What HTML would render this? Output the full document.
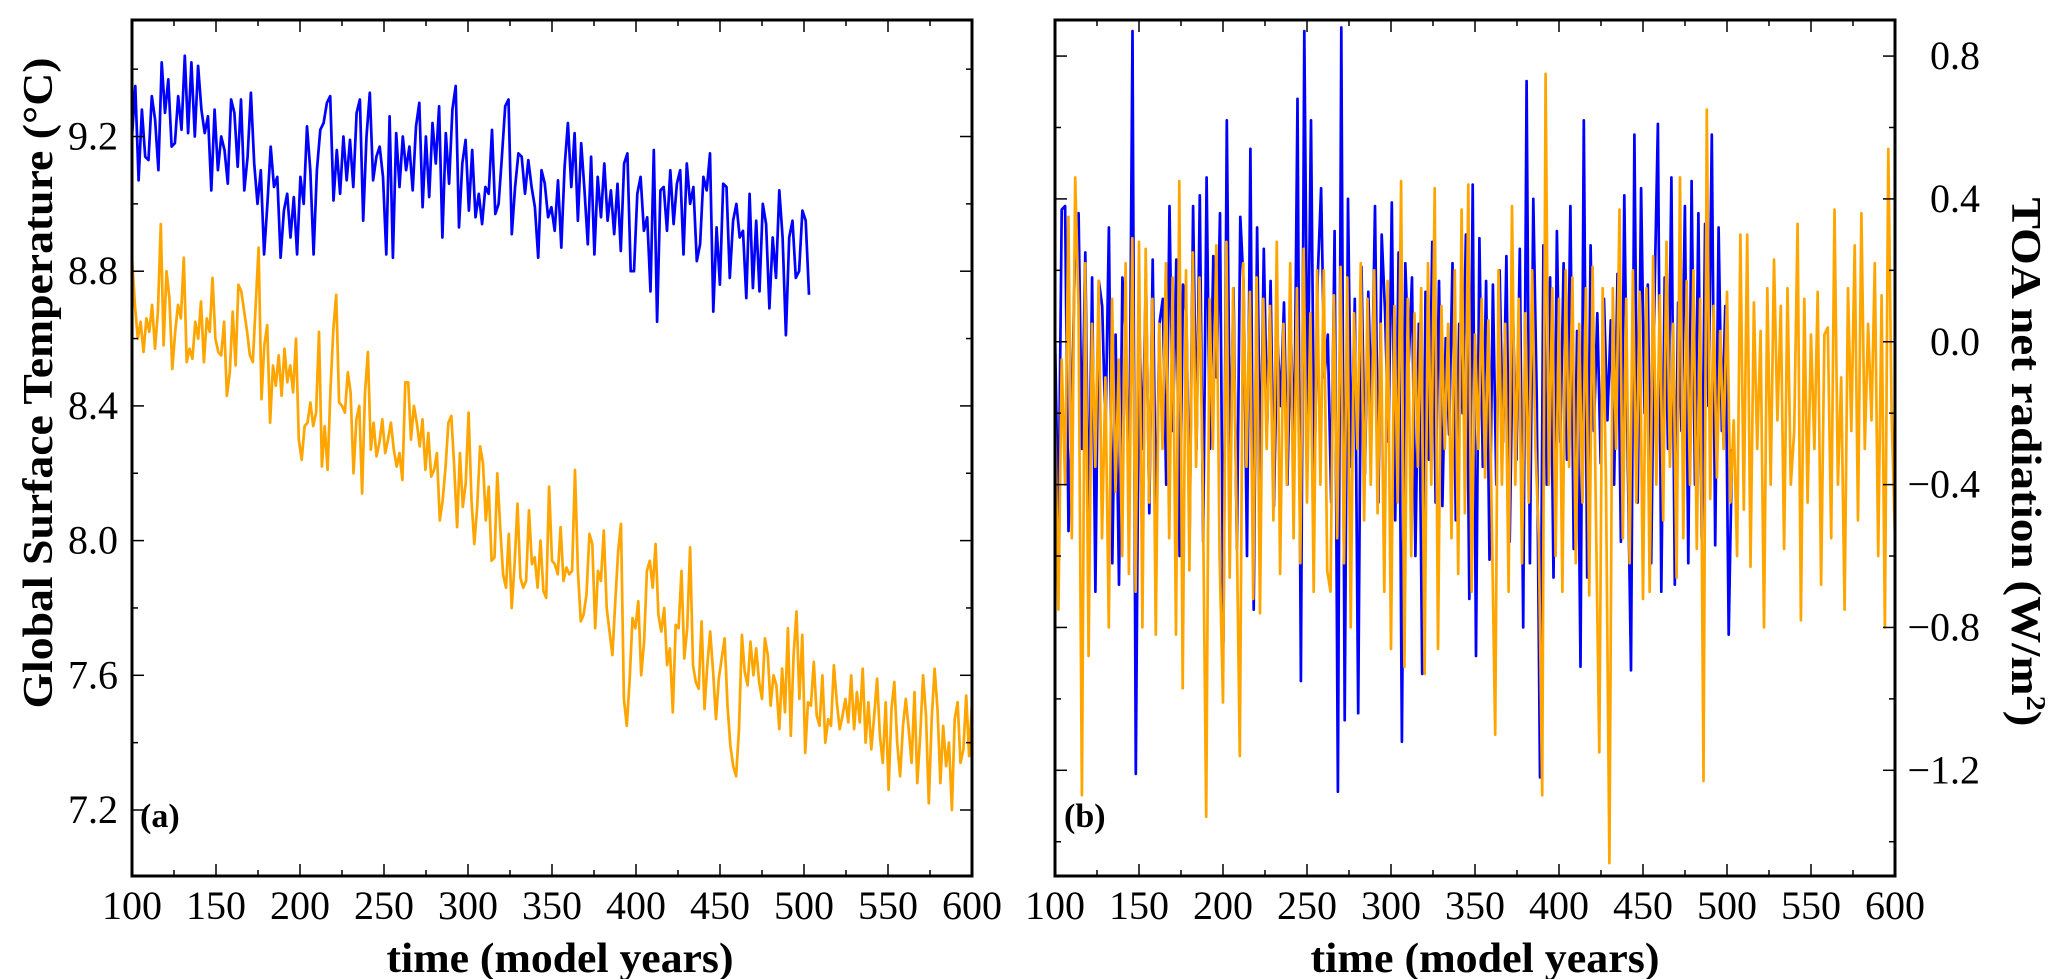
<!DOCTYPE html>
<html><head><meta charset="utf-8"><style>
html,body{margin:0;padding:0;background:#fff}
svg{display:block}
text{font-family:"Liberation Serif",serif;fill:#000}
</style></head><body>
<svg id="chart" width="2067" height="979" viewBox="0 0 2067 979" xmlns="http://www.w3.org/2000/svg">
<g id="pa"></g>
<g id="pb"></g>
<text transform="translate(52,383) rotate(-90)" text-anchor="middle" font-size="42" font-weight="bold" textLength="651" lengthAdjust="spacingAndGlyphs">Global Surface Temperature (°C)</text>
<text transform="translate(2012,462) rotate(90)" text-anchor="middle" font-size="42" font-weight="bold" textLength="529" lengthAdjust="spacingAndGlyphs">TOA net radiation (W/m<tspan font-size="27" dy="-15">2</tspan><tspan dy="15">)</tspan></text>
<text x="560" y="972" text-anchor="middle" font-size="42" font-weight="bold" textLength="347" lengthAdjust="spacingAndGlyphs">time (model years)</text>
<text x="1485" y="972" text-anchor="middle" font-size="42" font-weight="bold" textLength="349" lengthAdjust="spacingAndGlyphs">time (model years)</text>
<text x="140" y="827" font-size="34" font-weight="bold">(a)</text>
<text x="1064" y="827" font-size="34" font-weight="bold">(b)</text>
</svg>
<script>
const xTicks=[100,150,200,250,300,350,400,450,500,550,600];
const yTicksA=[7.2,7.6,8.0,8.4,8.8,9.2];
const yTicksB=[-1.2,-0.8,-0.4,0.0,0.4,0.8];
const startYear=100;
const blueEndA=503, orangeEndA=600, blueEndB=503, orangeEndB=600;
const blueTemp=[9.20,9.35,9.07,9.28,9.14,9.13,9.32,9.25,9.10,9.42,9.27,9.37,9.17,9.18,9.32,9.22,9.44,9.21,9.42,9.20,9.41,9.28,9.21,9.26,9.04,9.28,9.10,9.20,9.16,9.06,9.31,9.27,9.11,9.31,9.04,9.14,9.33,9.12,9.00,9.10,8.85,9.00,9.17,9.05,9.08,8.84,8.98,9.03,8.90,9.02,8.85,9.08,9.00,9.23,9.10,8.85,9.10,9.22,9.24,9.30,9.32,9.01,9.16,9.03,9.20,9.07,9.19,9.05,9.27,9.31,8.95,9.20,9.33,9.07,9.14,9.17,9.08,8.85,9.26,8.84,9.21,9.05,9.20,9.10,9.17,9.04,9.23,9.30,8.99,9.20,9.02,9.24,9.12,9.29,8.90,9.21,9.06,9.28,9.35,8.93,9.12,9.19,8.98,9.16,8.96,9.03,8.94,9.05,9.03,9.22,8.97,9.00,9.14,9.29,9.31,8.91,9.05,9.15,9.14,9.03,9.13,9.05,8.99,8.84,9.10,9.06,8.96,8.99,8.92,9.07,8.87,9.11,9.24,9.05,9.21,8.95,9.18,9.04,8.88,9.14,8.85,9.08,8.96,9.12,8.95,9.04,8.91,9.06,8.86,9.12,9.15,8.80,8.80,9.03,9.08,8.92,8.96,8.74,9.16,8.65,9.04,9.05,8.92,9.10,8.94,9.06,9.10,8.85,9.12,9.00,9.05,8.83,8.88,9.08,9.04,9.15,8.68,8.93,8.76,9.06,9.05,8.78,8.95,9.00,8.90,8.92,8.72,9.03,8.75,8.95,8.74,9.00,8.94,8.69,8.90,8.78,9.04,8.90,8.61,8.90,8.95,8.78,8.80,8.98,8.95,8.73];
const orangeTemp=[8.84,8.70,8.60,8.65,8.56,8.66,8.62,8.70,8.57,8.68,8.94,8.58,8.80,8.72,8.51,8.62,8.70,8.66,8.84,8.53,8.57,8.54,8.65,8.60,8.71,8.53,8.66,8.62,8.78,8.60,8.56,8.55,8.65,8.43,8.50,8.68,8.52,8.76,8.74,8.68,8.62,8.55,8.53,8.70,8.87,8.42,8.58,8.64,8.35,8.52,8.46,8.55,8.43,8.57,8.47,8.52,8.44,8.60,8.30,8.24,8.34,8.35,8.41,8.34,8.38,8.62,8.22,8.34,8.21,8.45,8.63,8.73,8.41,8.40,8.38,8.50,8.44,8.20,8.36,8.40,8.14,8.44,8.56,8.27,8.35,8.25,8.29,8.36,8.26,8.30,8.35,8.27,8.22,8.26,8.18,8.47,8.47,8.30,8.40,8.35,8.28,8.36,8.21,8.32,8.19,8.21,8.26,8.06,8.12,8.22,8.35,8.37,8.22,8.04,8.26,8.10,8.17,8.38,8.12,7.99,8.10,8.28,8.23,8.06,8.16,7.94,7.95,8.20,8.04,7.90,7.86,8.02,7.80,7.93,8.11,7.89,7.86,7.88,8.09,7.93,7.95,7.86,8.00,7.85,7.83,8.16,7.94,7.93,7.90,8.04,7.88,7.92,7.90,7.91,8.21,7.91,7.76,7.78,7.84,8.02,7.99,7.74,7.91,7.88,8.03,7.80,7.73,7.66,7.82,7.97,8.05,7.53,7.45,7.59,7.77,7.74,7.82,7.60,7.70,7.91,7.94,7.86,7.99,7.78,7.73,7.80,7.63,7.68,7.49,7.75,7.74,7.91,7.65,7.74,7.98,7.63,7.58,7.56,7.76,7.50,7.63,7.73,7.61,7.47,7.59,7.65,7.71,7.51,7.39,7.33,7.30,7.44,7.72,7.61,7.57,7.70,7.60,7.68,7.58,7.53,7.71,7.66,7.51,7.60,7.57,7.44,7.62,7.49,7.74,7.42,7.66,7.79,7.53,7.72,7.37,7.52,7.51,7.64,7.48,7.45,7.60,7.40,7.47,7.45,7.63,7.52,7.44,7.48,7.53,7.46,7.60,7.44,7.55,7.46,7.62,7.40,7.52,7.38,7.48,7.59,7.42,7.34,7.52,7.26,7.50,7.58,7.40,7.30,7.45,7.53,7.44,7.34,7.55,7.28,7.42,7.60,7.48,7.22,7.47,7.62,7.50,7.28,7.45,7.33,7.40,7.20,7.47,7.52,7.34,7.38,7.54,7.36,7.52];
const blueToa=[0.03,-0.55,0.37,0.38,-0.53,-0.20,0.28,0.36,-0.30,0.25,-0.55,0.18,-0.70,0.17,0.10,-0.25,0.32,-0.62,0.02,-0.68,0.18,0.00,-0.45,0.87,-1.21,0.06,-0.30,0.19,-0.48,0.23,-0.55,0.05,0.12,-0.40,0.38,-0.25,0.23,-0.60,0.16,0.07,-0.52,0.38,-0.30,0.41,-0.56,0.46,-0.30,0.24,-0.10,0.36,-0.84,0.62,-0.38,0.15,-0.58,0.35,0.16,-0.60,0.54,-0.75,0.32,-0.40,0.26,-0.23,0.17,-0.46,0.02,-0.18,0.11,-0.40,0.03,-0.30,0.68,-0.95,0.87,-0.20,0.62,-0.40,0.18,0.43,-0.10,0.02,-0.45,0.31,-1.26,0.88,-1.06,0.40,-0.35,0.12,-1.04,0.21,-0.37,0.14,-0.20,0.38,-0.45,0.30,0.08,-0.28,0.39,-0.50,0.25,-1.12,0.22,-0.06,0.18,-0.60,0.05,-0.93,0.14,-0.33,0.28,-0.45,0.17,-0.46,0.01,-0.26,0.22,-0.50,0.05,-0.20,0.30,-0.72,0.44,-0.88,0.29,-0.35,0.17,-0.61,0.16,-0.40,0.20,-0.28,0.24,-0.56,0.06,-0.33,0.26,-0.80,0.73,-0.62,0.40,-0.15,-1.22,0.27,-0.40,0.18,-0.66,0.31,-0.28,0.22,-0.33,0.38,-0.58,0.03,-0.91,0.62,-0.66,0.27,-0.25,0.08,-0.34,0.12,-0.22,0.06,-0.40,0.19,-0.56,0.41,-0.30,-0.92,0.58,-0.45,0.43,-0.20,0.16,-0.62,0.14,0.61,-0.70,0.18,-0.30,0.46,-0.68,0.11,-0.25,0.38,-0.62,0.45,-0.40,0.36,-0.55,0.33,-0.18,0.58,-0.57,0.32,-0.25,0.10,-0.82,-0.30];
const orangeToa=[-0.20,-0.75,-0.05,-0.40,0.35,-0.55,0.46,0.10,-1.27,0.22,-0.88,0.05,-0.35,0.17,-0.55,-0.10,-0.80,0.12,-0.42,-0.05,-0.60,0.22,-0.65,0.29,-0.70,0.28,-0.80,0.26,-0.45,0.12,-0.82,0.05,-0.30,0.22,-0.55,0.18,-0.82,0.45,-0.97,0.20,-0.64,0.25,-0.35,0.18,-0.40,-1.33,0.12,-0.30,0.27,-0.60,-1.01,0.28,-0.66,0.15,-0.45,-1.16,0.22,-0.35,0.14,-0.72,0.18,-0.76,0.12,-0.30,0.10,-0.50,0.28,-0.65,0.05,-0.40,0.22,-0.55,0.15,-0.62,0.26,-0.45,0.08,-0.70,0.20,-0.40,0.20,-0.64,-0.70,0.13,-0.55,0.21,-0.62,0.18,-0.80,0.08,-0.30,0.22,-0.50,0.12,-0.40,0.20,-0.48,0.05,-0.70,0.17,-0.86,0.10,-0.45,0.45,-0.91,0.12,-0.60,0.08,-0.35,0.15,-0.93,0.22,-0.40,0.43,-0.86,0.10,-0.30,0.05,-0.55,0.20,-0.65,0.37,-0.48,0.44,-0.70,0.02,-0.30,0.12,-0.38,0.06,-0.50,-1.10,0.20,-0.40,0.05,-0.70,0.38,-0.40,0.12,-0.62,0.08,-0.45,0.20,-0.30,-0.55,-1.27,0.75,-0.40,0.15,-0.60,0.12,-0.70,0.20,-0.35,0.18,-0.62,0.05,-0.45,0.15,-0.71,0.21,-0.50,-1.15,0.15,-0.40,-1.46,0.15,-0.30,0.37,-0.55,0.12,-0.62,0.20,-0.45,0.14,-0.72,0.15,-0.70,0.24,-0.40,0.13,-0.50,0.28,-0.35,0.05,-0.66,0.46,-0.55,0.17,-0.40,0.20,-0.58,0.12,-1.23,0.65,-0.44,0.10,-0.38,0.03,-0.30,0.14,-0.45,-0.22,-0.60,0.30,-0.47,0.30,-0.63,0.11,-0.30,0.03,-0.80,0.15,-0.40,0.23,-0.22,0.10,-0.58,0.15,-0.40,-0.25,0.33,-0.78,0.12,-0.45,0.02,-0.30,0.14,-0.68,0.02,0.04,-0.55,0.37,-0.40,-0.10,-0.75,0.15,-0.25,0.27,-0.50,0.36,-0.30,0.05,-0.22,0.22,-0.60,0.13,-0.80,0.54,-0.20,-0.55];

const NS='http://www.w3.org/2000/svg';
function mk(tag,attrs,parent){const e=document.createElementNS(NS,tag);for(const k in attrs)e.setAttribute(k,attrs[k]);parent.appendChild(e);return e;}

function panel(g,box,yMin,yMax,yTicks,yMinorStep,labelSide,series){
  const sx=v=>box.x0+(v-100)/(600-100)*(box.x1-box.x0);
  const sy=v=>box.y1-(v-yMin)/(yMax-yMin)*(box.y1-box.y0);
  series.forEach(s=>{
    const n=s.vals.length, step=(s.end-startYear)/(n-1);
    let d='';
    s.vals.forEach((v,i)=>{d+=(i?'L':'M')+sx(startYear+i*step).toFixed(1)+','+sy(v).toFixed(1);});
    const p=mk('path',{d:d,fill:'none',stroke:s.color,'stroke-width':2.7,'stroke-linejoin':'round'},g);
    
    
  });
  for(let v=100;v<=600;v+=25){
    const len=(v%50===0)?12:6, x=sx(v);
    const t1=mk('line',{x1:x,x2:x,y1:box.y1,y2:box.y1-len,stroke:'#000','stroke-width':1.5},g);
    
    
    const t2=mk('line',{x1:x,x2:x,y1:box.y0,y2:box.y0+len,stroke:'#000','stroke-width':1.5},g);
    
    
  }
  xTicks.forEach(v=>{
    const t=mk('text',{x:sx(v),y:box.y1+43,'text-anchor':'middle','font-size':40},g);
    t.textContent=v;
    
    
  });
  const first=Math.ceil((yMin-1e-9)/yMinorStep);
  for(let k=first;k*yMinorStep<=yMax+1e-9;k++){
    const v=k*yMinorStep, y=sy(v);
    const major=yTicks.some(t=>Math.abs(t-v)<1e-6), len=major?12:6;
    const a=mk('line',{x1:box.x0,x2:box.x0+len,y1:y,y2:y,stroke:'#000','stroke-width':1.5},g);
    
    
    const b=mk('line',{x1:box.x1,x2:box.x1-len,y1:y,y2:y,stroke:'#000','stroke-width':1.5},g);
    
    
  }
  yTicks.forEach(v=>{
    const left=labelSide==='left';
    if(left){
      const t=mk('text',{x:box.x0-14,y:sy(v)+13,'text-anchor':'end','font-size':40},g);
      t.textContent=v.toFixed(1);
      
      
    } else {
      const t=mk('text',{x:box.x1+35,y:sy(v)+13,'text-anchor':'start','font-size':40},g);
      t.textContent=Math.abs(v).toFixed(1);
      
      
      if(v<0){
        const m=mk('text',{x:box.x1+35,y:sy(v)+13,'text-anchor':'end','font-size':40},g);
        m.textContent='\u2212';
        
        
      }
    }
  });
  const f=mk('rect',{x:box.x0,y:box.y0,width:box.x1-box.x0,height:box.y1-box.y0,fill:'none',stroke:'#000','stroke-width':3},g);
  
  
}
panel(document.getElementById('pa'),{x0:132,x1:972,y0:20,y1:876},7.004,9.546,yTicksA,0.2,'left',
  [{vals:blueTemp,end:blueEndA,color:'#0000ff',name:'series-blue-temperature'},
   {vals:orangeTemp,end:orangeEndA,color:'#ffa500',name:'series-orange-temperature'}]);
panel(document.getElementById('pb'),{x0:1055,x1:1895,y0:20,y1:876},-1.496,0.901,yTicksB,0.2,'right',
  [{vals:blueToa,end:blueEndB,color:'#0000ff',name:'series-blue-toa'},
   {vals:orangeToa,end:orangeEndB,color:'#ffa500',name:'series-orange-toa'}]);
</script>
</body></html>
